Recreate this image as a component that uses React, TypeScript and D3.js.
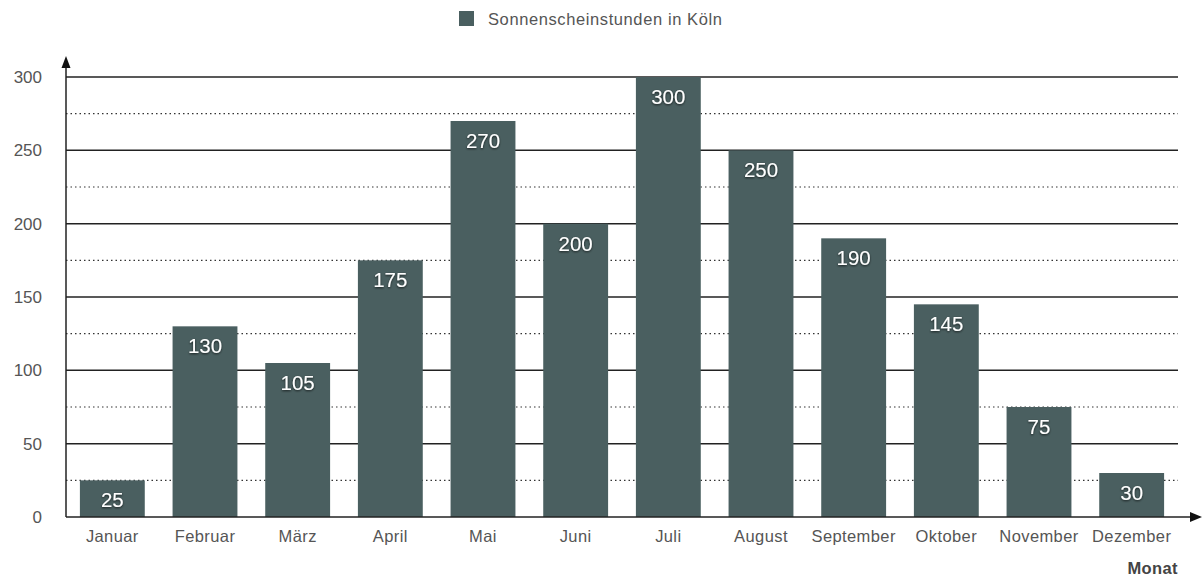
import React from 'react';
import * as d3 from 'd3';

const months = ['Januar', 'Februar', 'März', 'April', 'Mai', 'Juni', 'Juli', 'August', 'September', 'Oktober', 'November', 'Dezember'];
const sunHours = [25, 130, 105, 175, 270, 200, 300, 250, 190, 145, 75, 30];
const yTicks = [0, 50, 100, 150, 200, 250, 300];
const minorTicks = [25, 75, 125, 175, 225, 275];
const seriesName = 'Sonnenscheinstunden in Köln';
const xTitle = 'Monat';

export default function App() {
  const ref = React.useRef<SVGSVGElement>(null);

  React.useEffect(() => {
    const W = 1204;
    const H = 576;
    const left = 66;
    const right = 1178;
    const top = 77;
    const bottom = 517;
    const font = 'Liberation Sans, Arial, Helvetica, sans-serif';
    const barColor = '#4a5f60';

    const svg = d3.select(ref.current);
    svg.selectAll('*').remove();
    svg.attr('width', W).attr('height', H);

    const defs = svg.append('defs');
    const f = defs.append('filter').attr('id', 'tshadow').attr('x', '-20%').attr('y', '-20%').attr('width', '140%').attr('height', '160%');
    f.append('feDropShadow').attr('dx', 0).attr('dy', 1).attr('stdDeviation', 1.2).attr('flood-color', '#000').attr('flood-opacity', 0.7);

    const x = d3.scaleBand().domain(months).range([left, right]).paddingInner(0.3).paddingOuter(0.15);
    const y = d3.scaleLinear().domain([0, 300]).range([bottom, top]);

    // Legend
    svg.append('rect').attr('x', 459).attr('y', 11).attr('width', 15).attr('height', 15).attr('fill', barColor);
    svg.append('text').attr('x', 488).attr('y', 25).attr('font-family', font).attr('font-size', 16.5)
      .attr('letter-spacing', 0.6).attr('fill', '#555').text(seriesName);

    // minor dotted grid
    svg.append('g').selectAll('line').data(minorTicks).enter().append('line')
      .attr('x1', left).attr('x2', right).attr('y1', d => y(d)).attr('y2', d => y(d))
      .attr('stroke', '#333').attr('stroke-width', 1.2).attr('stroke-dasharray', '1.5,3');

    // major grid
    svg.append('g').selectAll('line').data(yTicks.filter(d => d > 0)).enter().append('line')
      .attr('x1', left).attr('x2', right).attr('y1', d => y(d)).attr('y2', d => y(d))
      .attr('stroke', '#222').attr('stroke-width', 1.5);

    // y tick labels
    svg.append('g').selectAll('text').data(yTicks).enter().append('text')
      .attr('x', 42).attr('y', d => y(d) + 6).attr('text-anchor', 'end')
      .attr('font-family', font).attr('font-size', 17).attr('fill', '#555').text(d => d);

    // bars
    svg.append('g').selectAll('rect').data(sunHours).enter().append('rect')
      .attr('x', (d, i) => x(months[i]) || 0).attr('width', x.bandwidth())
      .attr('y', d => y(d)).attr('height', d => bottom - y(d))
      .attr('fill', barColor);

    // bar labels
    svg.append('g').selectAll('text').data(sunHours).enter().append('text')
      .attr('x', (d, i) => (x(months[i]) || 0) + x.bandwidth() / 2)
      .attr('y', d => y(d) + 27).attr('text-anchor', 'middle')
      .attr('font-family', font).attr('font-size', 20.5).attr('fill', '#fff')
      .attr('filter', 'url(#tshadow)').text(d => d);

    // axes
    svg.append('line').attr('x1', left).attr('x2', 1192).attr('y1', bottom).attr('y2', bottom)
      .attr('stroke', '#222').attr('stroke-width', 1.5);
    svg.append('path').attr('d', `M1202,${bottom} L1190,${bottom - 5} L1190,${bottom + 5} Z`).attr('fill', '#111');
    svg.append('line').attr('x1', left).attr('x2', left).attr('y1', bottom).attr('y2', 66)
      .attr('stroke', '#222').attr('stroke-width', 1.5);
    svg.append('path').attr('d', `M${left},56 L${left - 4.5},68 L${left + 4.5},68 Z`).attr('fill', '#111');

    // x labels
    svg.append('g').selectAll('text').data(months).enter().append('text')
      .attr('x', d => (x(d) || 0) + x.bandwidth() / 2).attr('y', 542).attr('text-anchor', 'middle')
      .attr('font-family', font).attr('font-size', 16.5).attr('letter-spacing', 0.4).attr('fill', '#555').text(d => d);

    svg.append('text').attr('x', 1178).attr('y', 574).attr('text-anchor', 'end')
      .attr('font-family', font).attr('font-size', 16.5).attr('font-weight', 'bold').attr('letter-spacing', 0.4)
      .attr('fill', '#444').text(xTitle);
  }, []);

  return <svg ref={ref} style={{ position: 'absolute', left: 0, top: 0 }} />;
}
